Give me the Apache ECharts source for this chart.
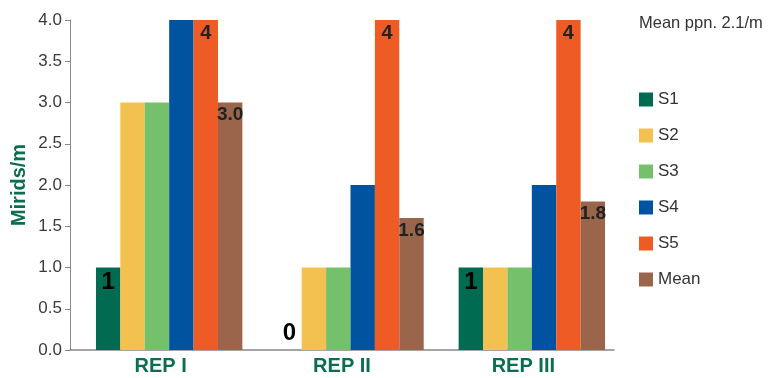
<!DOCTYPE html>
<html>
<head>
<meta charset="utf-8">
<script src="https://cdn.jsdelivr.net/npm/echarts@6/dist/echarts.min.js"></script>
<style>
  html, body { margin: 0; padding: 0; background: #fff; }
  #chart { width: 774px; height: 378px; }
</style>
</head>
<body>
<div id="chart"></div>
<script>
  // data
  const categories = ['REP I', 'REP II', 'REP III']
  const s1 = [1, 0, 1]
  const s2 = [3, 1, 1]
  const s3 = [3, 1, 1]
  const s4 = [4, 2, 2]
  const s5 = [4, 4, 4]
  const mean = [3.0, 1.6, 1.8]
  const yTicks = [0, 0.5, 1, 1.5, 2, 2.5, 3, 3.5, 4]

  const green = '#0b6e50'
  const font = '"Liberation Sans", Arial, sans-serif'

  const chart = echarts.init(document.getElementById('chart'))

  function barSeries(name, color, data, label) {
    return {
      name: name,
      type: 'bar',
      barWidth: 24.4,
      barGap: '0%',
      itemStyle: { color: color },
      label: label || { show: false },
      data: data
    }
  }

  const bigLabel = {
    show: true,
    position: 'insideTop',
    distance: 3,
    fontFamily: font,
    fontWeight: 'bold',
    fontSize: 24,
    color: '#000'
  }

  chart.setOption({
    backgroundColor: '#fff',
    animation: false,
    title: {
      text: 'Mean ppn. 2.1/m',
      left: 634,
      top: 10,
      textStyle: {
        fontFamily: font,
        fontWeight: 'normal',
        fontSize: 16.5,
        color: '#333'
      }
    },
    legend: {
      orient: 'vertical',
      left: 634,
      top: 86,
      itemWidth: 14,
      itemHeight: 14,
      itemGap: 19,
      icon: 'rect',
      textStyle: { fontFamily: font, fontSize: 17, color: '#333' },
      data: ['S1', 'S2', 'S3', 'S4', 'S5', 'Mean']
    },
    grid: {
      left: 70,
      top: 20,
      width: 544,
      bottom: 28,
      containLabel: false,
      outerBoundsMode: 'none'
    },
    xAxis: {
      type: 'category',
      data: categories,
      axisLine: { lineStyle: { color: '#888', width: 1.5 } },
      axisTick: { show: false },
      axisLabel: {
        margin: 6,
        fontFamily: font,
        fontWeight: 'bold',
        fontSize: 20,
        color: green
      }
    },
    yAxis: {
      type: 'value',
      min: yTicks[0],
      max: yTicks[yTicks.length - 1],
      interval: 0.5,
      name: 'Mirids/m',
      nameLocation: 'middle',
      nameGap: 41,
      nameMoveOverlap: false,
      nameTextStyle: {
        fontFamily: font,
        fontWeight: 'bold',
        fontSize: 20,
        color: green
      },
      splitLine: { show: false },
      axisLine: { show: true, lineStyle: { color: '#888' } },
      axisTick: { show: true, length: 5, lineStyle: { color: '#888' } },
      axisLabel: {
        margin: 8,
        fontFamily: font,
        fontSize: 17,
        color: '#3a3a3a',
        formatter: v => v.toFixed(1)
      }
    },
    series: [
      // empty spacer slot, keeps the groups shifted right as in the picture
      {
        name: '',
        type: 'bar',
        barWidth: 17,
        barGap: '0%',
        data: []
      },
      barSeries('S1', '#006b50', s1.map(v => v === 0
        ? { value: v, label: Object.assign({}, bigLabel, { position: 'top', distance: 5 }) }
        : v), bigLabel),
      barSeries('S2', '#f2c14f', s2),
      barSeries('S3', '#75c16b', s3),
      barSeries('S4', '#00549f', s4),
      barSeries('S5', '#ef5b25', s5, {
        show: true,
        position: 'insideTop',
        distance: 3,
        fontFamily: font,
        fontWeight: 'bold',
        fontSize: 20,
        color: '#222'
      }),
      barSeries('Mean', '#9b654b', mean, {
        show: true,
        position: 'insideTop',
        distance: 3,
        fontFamily: font,
        fontWeight: 'bold',
        fontSize: 19,
        color: '#222',
        formatter: p => p.value.toFixed(1)
      })
    ]
  })
</script>
</body>
</html>
